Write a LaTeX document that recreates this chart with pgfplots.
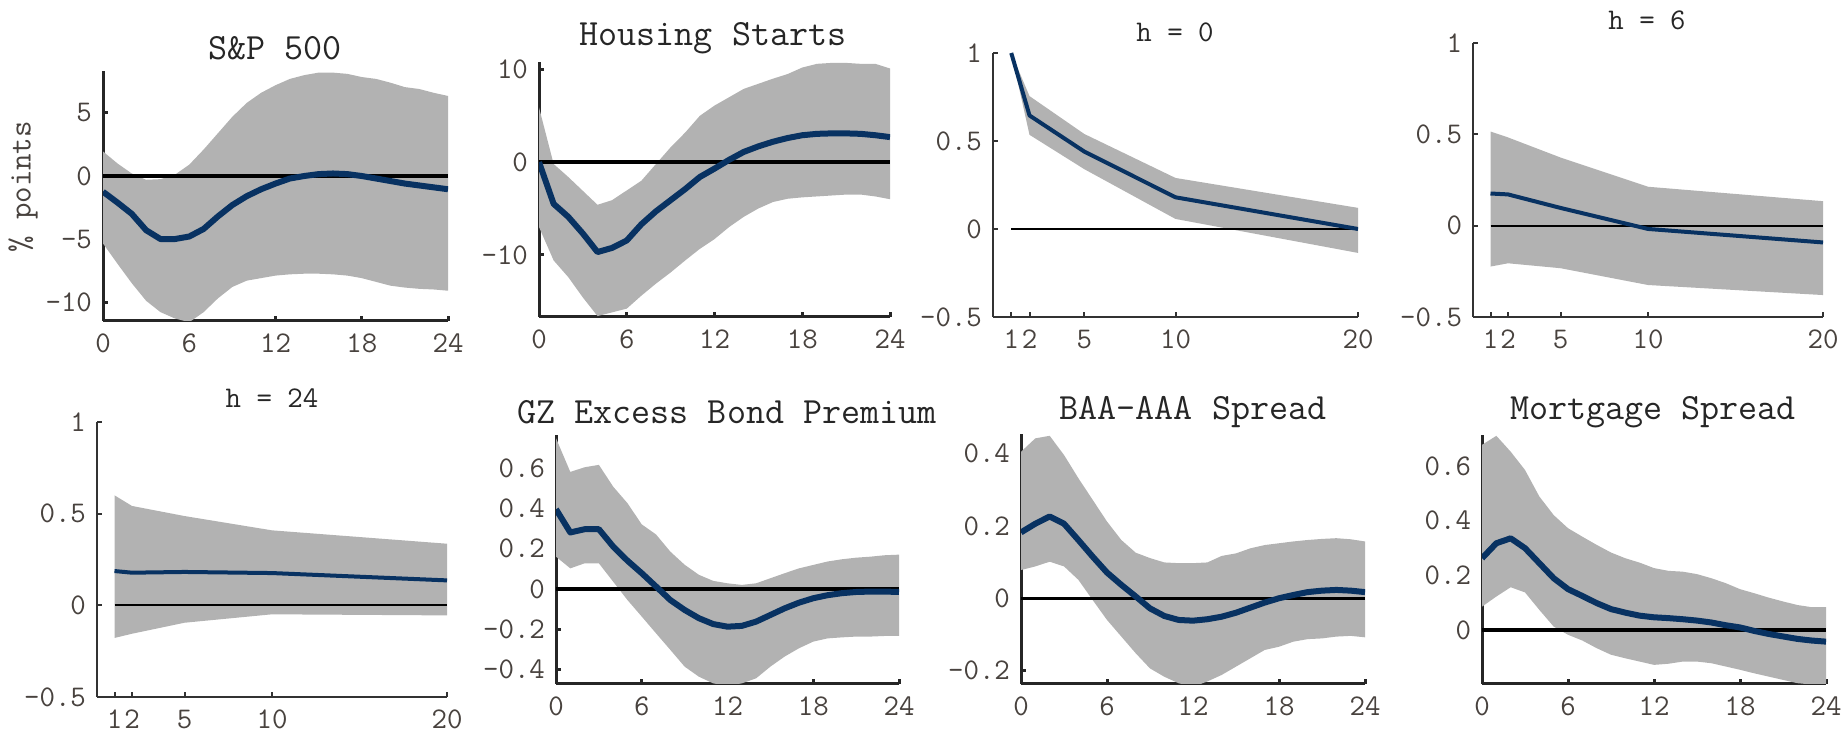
\documentclass[border=0pt]{standalone}
\usepackage{pgfplots}
\pgfplotsset{compat=1.18}
\usepackage{fontspec}
\definecolor{band}{RGB}{178,178,178}
\definecolor{irfblue}{RGB}{8,50,98}
\definecolor{tickc}{RGB}{72,66,62}
\definecolor{titc}{RGB}{38,38,38}
\pgfplotsset{
  irf/.style={scale only axis, anchor=south west,
    axis lines=left, axis line style={-, line width=1.5pt, black!85},
    tick align=inside, major tick length=2.5pt,
    tick style={line width=1.5pt, black!85},
    tick label style={font=\ttfamily\fontsize{15}{16}\selectfont, text=tickc},
    xticklabel style={yshift=-3pt},
    yticklabel style={xshift=-2pt},
    /pgf/number format/assume math mode=true,
    xmin=0, xmax=24, xtick={0,6,12,18,24}},
  irfh/.style={irf, axis line style={-, line width=1pt, black!80},
    tick style={line width=1pt, black!80},
    xmin=0, xmax=20, ymin=-0.5, ymax=1, xtick={1,2,5,10,20}, ytick={-0.5,0,0.5,1}},
  bandst/.style={fill=band, draw=none},
  lnst/.style={irfblue, line width=3pt, line join=round},
  zst/.style={black, line width=1.7pt}
}
\begin{document}
\begin{tikzpicture}
\useasboundingbox (0,0) rectangle (922.5pt,371pt);
% ---------------- S&P 500
\begin{axis}[irf, at={(51.5pt,210.5pt)}, width=172.5pt, height=125pt,
  ymin=-11.5, ymax=8.33, ytick={-10,-5,0,5}]
\addplot[bandst] coordinates {(0,1.95)(1,1.0)(2,0.2)(3,-0.3)(4,-0.25)(5,0.1)(6,0.9)(7,2.1)(8,3.4)(9,4.7)(10,5.8)(11,6.6)(12,7.2)(13,7.7)(14,8.0)(15,8.2)(16,8.2)(17,8.1)(18,7.85)(19,7.7)(20,7.4)(21,7.05)(22,6.9)(23,6.6)(24,6.35)
 (24,-9.1)(23,-9.0)(22,-8.95)(21,-8.85)(20,-8.7)(19,-8.4)(18,-8.1)(17,-7.9)(16,-7.8)(15,-7.75)(14,-7.75)(13,-7.8)(12,-7.9)(11,-8.1)(10,-8.3)(9,-8.8)(8,-9.7)(7,-10.8)(6,-11.6)(5,-11.3)(4,-10.8)(3,-9.9)(2,-8.5)(1,-6.95)(0,-5.35)};
\addplot[zst] coordinates {(0,0)(24,0)};
\addplot[lnst] coordinates {(0,-1.25)(1,-2.1)(2,-3.0)(3,-4.3)(4,-5.0)(5,-5.0)(6,-4.8)(7,-4.2)(8,-3.2)(9,-2.3)(10,-1.6)(11,-1.05)(12,-0.6)(13,-0.2)(14,0.0)(15,0.15)(16,0.2)(17,0.15)(18,0.0)(19,-0.2)(20,-0.4)(21,-0.6)(22,-0.75)(23,-0.9)(24,-1.05)};
\end{axis}
% ---------------- Housing Starts
\begin{axis}[irf, at={(269.5pt,212.5pt)}, width=175.5pt, height=127.5pt,
  ymin=-16.7, ymax=10.8, ytick={-10,0,10}]
\addplot[bandst] coordinates {(0,5.9)(1,-0.2)(2,-1.6)(3,-3.1)(4,-4.6)(5,-4.1)(6,-3.05)(7,-2.0)(8,-0.2)(9,1.6)(10,3.2)(11,5.0)(12,6.1)(13,7.0)(14,7.9)(15,8.45)(16,9.0)(17,9.5)(18,10.2)(19,10.6)(20,10.7)(21,10.7)(22,10.6)(23,10.6)(24,10.1)
 (24,-4.0)(23,-3.7)(22,-3.5)(21,-3.5)(20,-3.6)(19,-3.7)(18,-3.8)(17,-3.95)(16,-4.3)(15,-5.0)(14,-5.9)(13,-7.0)(12,-8.3)(11,-9.35)(10,-10.6)(9,-11.9)(8,-13.1)(7,-14.4)(6,-15.8)(5,-16.2)(4,-16.6)(3,-14.6)(2,-12.4)(1,-10.6)(0,-7.0)};
\addplot[zst] coordinates {(0,0)(24,0)};
\addplot[lnst] coordinates {(0,0)(1,-4.5)(2,-5.9)(3,-7.7)(4,-9.7)(5,-9.25)(6,-8.45)(7,-6.7)(8,-5.3)(9,-4.1)(10,-2.9)(11,-1.6)(12,-0.7)(13,0.25)(14,1.1)(15,1.7)(16,2.2)(17,2.6)(18,2.9)(19,3.05)(20,3.1)(21,3.1)(22,3.05)(23,2.9)(24,2.7)};
\end{axis}
% ---------------- h = 0
\begin{axis}[irfh, at={(496.5pt,212.5pt)}, width=182.5pt, height=132pt]
\addplot[bandst] coordinates {(1,1.0)(2,0.755)(5,0.54)(10,0.29)(20,0.12)(20,-0.136)(10,0.057)(5,0.34)(2,0.535)(1,1.0)};
\addplot[black, line width=1pt] coordinates {(1,0)(20,0)};
\addplot[lnst, line width=2pt] coordinates {(1,1.0)(2,0.645)(5,0.44)(10,0.18)(20,0.0)};
\end{axis}
% ---------------- h = 6
\begin{axis}[irfh, at={(736.5pt,212.5pt)}, width=175pt, height=137pt]
\addplot[bandst] coordinates {(1,0.515)(2,0.483)(5,0.373)(10,0.213)(20,0.134)(20,-0.38)(10,-0.325)(5,-0.233)(2,-0.206)(1,-0.224)};
\addplot[black, line width=1pt] coordinates {(1,0)(20,0)};
\addplot[lnst, line width=2pt] coordinates {(1,0.176)(2,0.171)(5,0.097)(10,-0.018)(20,-0.092)};
\end{axis}
% ---------------- h = 24
\begin{axis}[irfh, at={(48.5pt,22.5pt)}, width=175pt, height=137.5pt]
\addplot[bandst] coordinates {(1,0.6)(2,0.542)(5,0.487)(10,0.409)(20,0.336)(20,-0.055)(10,-0.049)(5,-0.095)(2,-0.155)(1,-0.178)};
\addplot[black, line width=1pt] coordinates {(1,0)(20,0)};
\addplot[lnst, line width=2pt] coordinates {(1,0.187)(2,0.178)(5,0.182)(10,0.176)(20,0.136)};
\end{axis}
% ---------------- GZ Excess Bond Premium
\begin{axis}[irf, at={(278pt,29pt)}, width=171.5pt, height=124.5pt,
  ymin=-0.471, ymax=0.763, ytick={-0.4,-0.2,0,0.2,0.4,0.6}]
\addplot[bandst] coordinates {(0,0.747)(1,0.58)(2,0.603)(3,0.615)(4,0.507)(5,0.425)(6,0.32)(7,0.27)(8,0.185)(9,0.12)(10,0.07)(11,0.04)(12,0.028)(13,0.02)(14,0.028)(15,0.053)(16,0.078)(17,0.102)(18,0.119)(19,0.136)(20,0.147)(21,0.155)(22,0.16)(23,0.167)(24,0.17)
 (24,-0.233)(23,-0.233)(22,-0.236)(21,-0.236)(20,-0.24)(19,-0.245)(18,-0.261)(17,-0.294)(16,-0.335)(15,-0.385)(14,-0.443)(13,-0.468)(12,-0.48)(11,-0.468)(10,-0.435)(9,-0.385)(8,-0.302)(7,-0.22)(6,-0.137)(5,-0.055)(4,0.036)(3,0.127)(2,0.127)(1,0.102)(0,0.16)};
\addplot[zst] coordinates {(0,0)(24,0)};
\addplot[lnst] coordinates {(0,0.395)(1,0.28)(2,0.296)(3,0.296)(4,0.21)(5,0.14)(6,0.078)(7,0.012)(8,-0.055)(9,-0.104)(10,-0.145)(11,-0.174)(12,-0.187)(13,-0.183)(14,-0.162)(15,-0.129)(16,-0.096)(17,-0.068)(18,-0.046)(19,-0.031)(20,-0.021)(21,-0.015)(22,-0.013)(23,-0.013)(24,-0.015)};
\end{axis}
% ---------------- BAA-AAA Spread
\begin{axis}[irf, at={(510.5pt,29pt)}, width=172pt, height=125pt,
  ymin=-0.237, ymax=0.454, ytick={-0.2,0,0.2,0.4}]
\addplot[bandst] coordinates {(0,0.405)(1,0.442)(2,0.449)(3,0.396)(4,0.332)(5,0.272)(6,0.212)(7,0.161)(8,0.126)(9,0.111)(10,0.099)(11,0.097)(12,0.097)(13,0.099)(14,0.117)(15,0.124)(16,0.138)(17,0.147)(18,0.152)(19,0.157)(20,0.161)(21,0.164)(22,0.166)(23,0.163)(24,0.157)
 (24,-0.108)(23,-0.104)(22,-0.106)(21,-0.111)(20,-0.113)(19,-0.12)(18,-0.134)(17,-0.143)(16,-0.166)(15,-0.189)(14,-0.212)(13,-0.23)(12,-0.245)(11,-0.235)(10,-0.217)(9,-0.194)(8,-0.152)(7,-0.106)(6,-0.06)(5,-0.005)(4,0.051)(3,0.088)(2,0.101)(1,0.088)(0,0.078)};
\addplot[zst] coordinates {(0,0)(24,0)};
\addplot[lnst] coordinates {(0,0.182)(1,0.206)(2,0.226)(3,0.206)(4,0.161)(5,0.115)(6,0.071)(7,0.037)(8,0.005)(9,-0.028)(10,-0.049)(11,-0.06)(12,-0.062)(13,-0.058)(14,-0.051)(15,-0.04)(16,-0.026)(17,-0.012)(18,0)(19,0.009)(20,0.017)(21,0.021)(22,0.023)(23,0.021)(24,0.017)};
\end{axis}
% ---------------- Mortgage Spread
\begin{axis}[irf, at={(741pt,29pt)}, width=172pt, height=124.5pt,
  ymin=-0.198, ymax=0.713, ytick={0,0.2,0.4,0.6}]
\addplot[bandst] coordinates {(0,0.677)(1,0.71)(2,0.652)(3,0.585)(4,0.488)(5,0.42)(6,0.372)(7,0.341)(8,0.311)(9,0.283)(10,0.262)(11,0.246)(12,0.226)(13,0.216)(14,0.213)(15,0.204)(16,0.189)(17,0.171)(18,0.149)(19,0.134)(20,0.118)(21,0.104)(22,0.091)(23,0.083)(24,0.083)
 (24,-0.205)(23,-0.2)(22,-0.195)(21,-0.183)(20,-0.171)(19,-0.159)(18,-0.146)(17,-0.134)(16,-0.122)(15,-0.116)(14,-0.116)(13,-0.124)(12,-0.128)(11,-0.116)(10,-0.104)(9,-0.091)(8,-0.067)(7,-0.039)(6,-0.018)(5,0.012)(4,0.073)(3,0.137)(2,0.156)(1,0.122)(0,0.085)};
\addplot[zst] coordinates {(0,0)(24,0)};
\addplot[lnst] coordinates {(0,0.262)(1,0.317)(2,0.335)(3,0.299)(4,0.244)(5,0.189)(6,0.149)(7,0.124)(8,0.098)(9,0.076)(10,0.063)(11,0.052)(12,0.046)(13,0.043)(14,0.039)(15,0.034)(16,0.027)(17,0.017)(18,0.009)(19,-0.004)(20,-0.015)(21,-0.024)(22,-0.033)(23,-0.039)(24,-0.043)};
\end{axis}
% ---------------- titles
\node[text=titc, font=\ttfamily\fontsize{18.5}{19}\selectfont] at (137.5pt,347pt) {S\&P 500};
\node[text=titc, font=\ttfamily\fontsize{18.5}{19}\selectfont] at (356.5pt,352pt) {Housing Starts};
\node[text=titc, font=\ttfamily\fontsize{15}{16}\selectfont] at (587.5pt,355pt) {h = 0};
\node[text=titc, font=\ttfamily\fontsize{15}{16}\selectfont] at (823.5pt,361pt) {h = 6};
\node[text=titc, font=\ttfamily\fontsize{15}{16}\selectfont] at (136pt,172pt) {h = 24};
\node[text=titc, font=\ttfamily\fontsize{18.5}{19}\selectfont] at (363.5pt,165pt) {GZ Excess Bond Premium};
\node[text=titc, font=\ttfamily\fontsize{18.5}{19}\selectfont] at (596.5pt,165pt) {BAA-AAA Spread};
\node[text=titc, font=\ttfamily\fontsize{18.5}{19}\selectfont] at (826.5pt,165pt) {Mortgage Spread};
\node[text=tickc, rotate=90, font=\ttfamily\fontsize{16}{17}\selectfont] at (11.5pt,277.5pt) {\% points};
\end{tikzpicture}
\end{document}
